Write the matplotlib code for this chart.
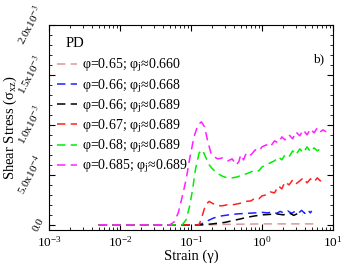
import numpy as np
import matplotlib
matplotlib.use("Agg")
import matplotlib.pyplot as plt
from matplotlib.ticker import MultipleLocator, LogLocator, NullFormatter

plt.rcParams['font.family'] = ['Liberation Serif', 'DejaVu Serif']
plt.rcParams['mathtext.fontset'] = 'stix'

# ---- data (stress in units of 1e-3) ----
x_a = [0.005, 0.15, 0.3, 1.0, 5.5]
y_a = [0.0, 0.0, 0.005, 0.01, 0.01]

x_b = [0.005, 0.12, 0.14, 0.17, 0.21, 0.27, 0.34, 0.45, 0.6, 0.8, 1.0, 1.2, 1.4, 1.6,
       1.8, 2.0, 2.3, 2.6, 3.0, 3.3, 3.6, 4.0, 4.4, 4.8, 5.0]
y_b = [0.0, 0.0, 0.01, 0.04, 0.07, 0.09, 0.10, 0.11, 0.115, 0.12, 0.125, 0.12, 0.13, 0.115,
       0.135, 0.12, 0.14, 0.115, 0.14, 0.12, 0.145, 0.115, 0.15, 0.12, 0.14]

x_c = [0.005, 0.14, 0.2, 0.3, 0.4, 0.5, 0.6, 0.8, 1.0, 1.3, 1.6, 2.0, 2.4, 2.8, 3.2, 3.7]
y_c = [0.0, 0.0, 0.01, 0.025, 0.045, 0.06, 0.075, 0.09, 0.10, 0.105, 0.11, 0.10, 0.12,
       0.095, 0.115, 0.10]

x_d = [0.005, 0.13, 0.145, 0.16, 0.18, 0.2, 0.23, 0.27, 0.32, 0.38, 0.45, 0.52, 0.6, 0.7,
       0.8, 0.9, 1.0, 1.15, 1.3, 1.5, 1.7, 1.9, 2.1, 2.4, 2.7, 3.0, 3.4, 3.8, 4.3, 4.8,
       5.4, 6.0, 6.6, 7.2]
y_d = [0.0, 0.0, 0.1, 0.2, 0.235, 0.215, 0.195, 0.19, 0.2, 0.2, 0.21, 0.22, 0.235, 0.24,
       0.27, 0.26, 0.29, 0.30, 0.33, 0.32, 0.39, 0.36, 0.43, 0.40, 0.45, 0.41, 0.44, 0.47,
       0.42, 0.46, 0.43, 0.47, 0.44, 0.45]

x_e = [0.005, 0.075, 0.085, 0.095, 0.105, 0.115, 0.13, 0.145, 0.16, 0.18, 0.2, 0.23, 0.27,
       0.32, 0.38, 0.45, 0.52, 0.6, 0.7, 0.8, 0.9, 1.0, 1.15, 1.3, 1.5, 1.7, 1.9, 2.1, 2.4,
       2.7, 3.0, 3.4, 3.8, 4.3, 4.8, 5.4, 6.0, 6.6, 7.2]
y_e = [0.0, 0.0, 0.05, 0.18, 0.35, 0.55, 0.72, 0.75, 0.68, 0.6, 0.56, 0.52, 0.49, 0.47,
       0.47, 0.48, 0.50, 0.51, 0.53, 0.55, 0.54, 0.58, 0.60, 0.62, 0.64, 0.68, 0.65, 0.70,
       0.68, 0.74, 0.70, 0.76, 0.72, 0.78, 0.73, 0.77, 0.74, 0.76, 0.75]

x_f = [0.005, 0.05, 0.058, 0.066, 0.075, 0.085, 0.095, 0.11, 0.125, 0.14, 0.155, 0.17,
       0.19, 0.21, 0.24, 0.28, 0.33, 0.38, 0.43, 0.47, 0.5, 0.55, 0.6, 0.7, 0.8, 0.9, 1.0,
       1.15, 1.3, 1.5, 1.7, 1.9, 2.1, 2.4, 2.7, 3.0, 3.4, 3.8, 4.3, 4.8, 5.4, 6.0, 6.6,
       7.2, 8.0]
y_f = [0.0, 0.0, 0.03, 0.12, 0.28, 0.45, 0.65, 0.88, 1.0, 1.03, 0.98, 0.85, 0.72, 0.68,
       0.66, 0.67, 0.64, 0.66, 0.60, 0.63, 0.70, 0.65, 0.72, 0.70, 0.75, 0.74, 0.78, 0.80,
       0.78, 0.84, 0.82, 0.88, 0.85, 0.90, 0.86, 0.93, 0.89, 0.95, 0.90, 0.96, 0.92, 0.97,
       0.93, 0.95, 0.93]

labels = [r"φ=0.65; φ$_\mathregular{j}$≈0.660",
          r"φ=0.66; φ$_\mathregular{j}$≈0.668",
          r"φ=0.66; φ$_\mathregular{j}$≈0.689",
          r"φ=0.67; φ$_\mathregular{j}$≈0.689",
          r"φ=0.68; φ$_\mathregular{j}$≈0.689",
          r"φ=0.685; φ$_\mathregular{j}$≈0.689"]
colors = ['#d89a9a', '#1f1fff', '#000000', '#ff2020', '#00ee00', '#ff20ff']
series = [(x_a, y_a), (x_b, y_b), (x_c, y_c), (x_d, y_d), (x_e, y_e), (x_f, y_f)]

ytick_vals = [0.0, 5e-4, 1e-3, 1.5e-3, 2e-3]
ytick_labels = ["0.0", r"5.0x10$^{-4}$", r"1.0x10$^{-3}$", r"1.5x10$^{-3}$", r"2.0x10$^{-3}$"]

fig = plt.figure(figsize=(3.43, 2.67), dpi=100)
ax = fig.add_axes([0.143, 0.139, 0.828, 0.768])

for (xs, ys), c, lab in zip(series, colors, labels):
    ax.plot(xs, np.array(ys) * 1e-3, color=c, lw=1.1, ls=(0, (5.5, 3.5)), label=lab)

ax.set_xscale('log')
ax.set_xlim(1e-3, 10)
ax.set_ylim(-0.05e-3, 2.0e-3)
ax.xaxis.set_major_locator(LogLocator(base=10, numticks=10))
ax.xaxis.set_minor_locator(LogLocator(base=10, subs=np.arange(2, 10), numticks=20))
ax.xaxis.set_minor_formatter(NullFormatter())
ax.set_yticks(ytick_vals)
ax.set_yticklabels(ytick_labels, rotation=62, va='center', ha='right', fontsize=8)
ax.yaxis.set_minor_locator(MultipleLocator(1e-4))
ax.tick_params(which='both', direction='in', top=True, right=True)
ax.tick_params(axis='x', labelsize=9.5)
ax.tick_params(which='major', length=4)
ax.tick_params(which='minor', length=2)
ax.tick_params(axis='y', pad=2)

ax.set_xlabel("Strain (γ)", fontsize=10.5, labelpad=0)
ax.set_ylabel(r"Shear Stress (σ$_\mathregular{xz}$)", fontsize=10.5)
ax.yaxis.set_label_coords(-0.106, 0.5)

ax.text(0.06, 0.94, "PD", transform=ax.transAxes, fontsize=10.5, va='top')
ax.text(0.93, 0.83, "b)", transform=ax.transAxes, fontsize=9.5, va='center')

ax.legend(loc='upper left', bbox_to_anchor=(0.0, 0.885), frameon=False, fontsize=10,
          handlelength=1.4, handletextpad=0.4, labelspacing=0.18, borderaxespad=0.2)

fig.savefig("out.png", dpi=100)
